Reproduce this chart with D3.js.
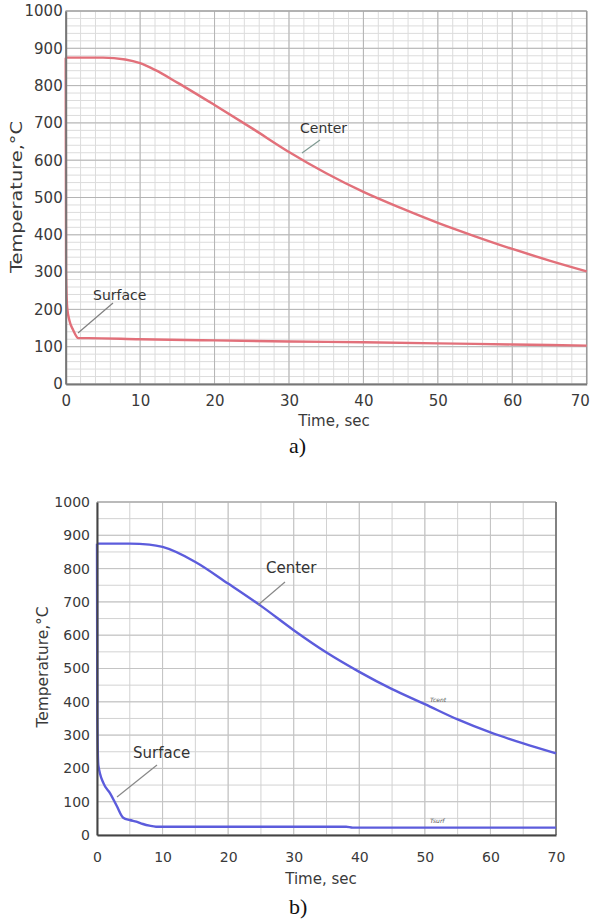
<!DOCTYPE html>
<html>
<head>
<meta charset="utf-8">
<script src="https://cdn.jsdelivr.net/npm/d3@7"></script>
<style>
  body { margin: 0; background: #fff; }
  svg { display: block; }
</style>
</head>
<body>
<svg id="chart"></svg>
<script>
// Cooling curves, center and surface, for two cases a) and b)
const xTicks = [0, 10, 20, 30, 40, 50, 60, 70];
const yTicks = [0, 100, 200, 300, 400, 500, 600, 700, 800, 900, 1000];

const aCenterTime = [0, 5, 8, 10, 12, 15, 20, 25, 30, 35, 40, 45, 50, 55, 60, 65, 70];
const aCenterTemp = [875, 875, 870, 860, 842, 808, 748, 686, 622, 565, 515, 472, 432, 396, 362, 331, 302];
const aSurfaceTime = [0, 0.05, 0.2, 0.5, 1, 1.7, 3, 10, 20, 30, 40, 50, 60, 70];
const aSurfaceTemp = [875, 300, 205, 170, 145, 123, 123, 120, 117, 114, 112, 109, 106, 103];

const bCenterTime = [0, 5, 8, 10, 15, 20, 25, 30, 35, 40, 45, 50, 55, 60, 65, 70];
const bCenterTemp = [875, 875, 872, 865, 820, 755, 688, 615, 548, 490, 438, 393, 347, 308, 275, 245];
const bSurfaceTime = [0, 0.05, 0.2, 1, 2, 3, 4, 5, 6, 7, 8, 9, 10, 38, 39, 70];
const bSurfaceTemp = [875, 350, 210, 155, 125, 88, 52, 45, 40, 33, 28, 25, 25, 25, 22, 22];

const W = 592, H = 922;
const svg = d3.select("#chart").attr("width", W).attr("height", H);

function drawPanel(p) {
  const x = d3.scaleLinear().domain([0, 70]).range([p.left, p.right]);
  const y = d3.scaleLinear().domain([0, 1000]).range([p.bottom, p.top]);
  const g = svg.append("g");

  // grid
  g.append("g").selectAll("line")
    .data(p.minorX).enter().append("line")
    .attr("x1", d => x(d)).attr("x2", d => x(d))
    .attr("y1", p.top).attr("y2", p.bottom)
    .attr("stroke", p.minorColor).attr("stroke-width", 1);
  g.append("g").selectAll("line")
    .data(p.minorY).enter().append("line")
    .attr("y1", d => y(d)).attr("y2", d => y(d))
    .attr("x1", p.left).attr("x2", p.right)
    .attr("stroke", p.minorColor).attr("stroke-width", 1);
  g.append("g").selectAll("line")
    .data(xTicks).enter().append("line")
    .attr("x1", d => x(d)).attr("x2", d => x(d))
    .attr("y1", p.top).attr("y2", p.bottom)
    .attr("stroke", p.majorColor).attr("stroke-width", 1);
  g.append("g").selectAll("line")
    .data(yTicks).enter().append("line")
    .attr("y1", d => y(d)).attr("y2", d => y(d))
    .attr("x1", p.left).attr("x2", p.right)
    .attr("stroke", p.majorColor).attr("stroke-width", 1);

  // frame
  g.append("line").attr("x1", p.left).attr("x2", p.right).attr("y1", p.top).attr("y2", p.top)
    .attr("stroke", p.topColor).attr("stroke-width", 1.5);
  g.append("line").attr("x1", p.right).attr("x2", p.right).attr("y1", p.top).attr("y2", p.bottom)
    .attr("stroke", p.rightColor).attr("stroke-width", 1.5);

  // curves
  const line = d3.line()
    .x(d => x(d[0])).y(d => y(d[1]))
    .curve(d3.curveMonotoneX);
  [[p.cT, p.cV], [p.sT, p.sV]].forEach(([t, v]) => {
    g.append("path")
      .datum(d3.zip(t, v))
      .attr("fill", "none")
      .attr("stroke", p.lineColor)
      .attr("stroke-width", 2.4)
      .attr("stroke-linejoin", "round")
      .attr("d", line);
  });

  // axes
  const ax = g.append("g")
    .attr("transform", `translate(0,${p.bottom})`)
    .call(d3.axisBottom(x).tickValues(xTicks).tickFormat(d3.format("d")).tickSize(0).tickPadding(p.xPad));
  const ay = g.append("g")
    .attr("transform", `translate(${p.left},0)`)
    .call(d3.axisLeft(y).tickValues(yTicks).tickFormat(d3.format("d")).tickSize(0).tickPadding(p.yPad));
  [ax, ay].forEach(a => {
    a.select(".domain").attr("stroke", p.axisColor).attr("stroke-width", 2);
    a.selectAll("text")
      .style("font-family", "DejaVu Sans, sans-serif")
      .style("font-size", p.tickFont + "px")
      .attr("fill", "#3a3a3a");
  });
  if (p.lastTickShift) {
    ax.selectAll(".tick text").filter(d => d === 70).attr("dx", p.lastTickShift);
  }

  g.append("text")
    .attr("x", p.xTitle[0]).attr("y", p.xTitle[1])
    .attr("text-anchor", "middle")
    .style("font-family", "DejaVu Sans, sans-serif")
    .style("font-size", p.titleFont + "px")
    .attr("fill", "#3a3a3a")
    .text("Time, sec");

  g.append("text")
    .attr("transform", `translate(${p.yTitle[0]},${p.yTitle[1]}) rotate(-90)`)
    .attr("text-anchor", "middle")
    .attr("textLength", p.yTitle[2])
    .attr("lengthAdjust", "spacingAndGlyphs")
    .style("font-family", "DejaVu Sans, sans-serif")
    .style("font-size", p.titleFont + "px")
    .attr("fill", "#3a3a3a")
    .text("Temperature,°C");

  // annotations
  p.notes.forEach(n => {
    g.append("line")
      .attr("x1", n.from[0]).attr("y1", n.from[1])
      .attr("x2", n.to[0]).attr("y2", n.to[1])
      .attr("stroke", n.color).attr("stroke-width", 1.2);
    g.append("text")
      .attr("x", n.at[0]).attr("y", n.at[1])
      .style("font-family", "DejaVu Sans, sans-serif")
      .style("font-size", n.size + "px")
      .attr("fill", "#333")
      .text(n.text);
  });

  svg.append("text")
    .attr("x", p.caption[0]).attr("y", p.caption[1])
    .style("font-family", "Liberation Serif, Times New Roman, serif")
    .style("font-size", "22px")
    .attr("fill", "#111")
    .text(p.caption[2]);

  return { x, y, g };
}

drawPanel({
  left: 65.7, right: 586.7, top: 11, bottom: 384,
  minorX: d3.range(0, 70.1, 2), minorY: d3.range(0, 1000.1, 20),
  minorColor: "#dcdcdc", majorColor: "#b4b4b4",
  topColor: "#a8a8a8", rightColor: "#9a9a9a", axisColor: "#777",
  lineColor: "#e2707a",
  cT: aCenterTime, cV: aCenterTemp, sT: aSurfaceTime, sV: aSurfaceTemp,
  xPad: 11, yPad: 3, tickFont: 15, titleFont: 15, lastTickShift: -7,
  xTitle: [334, 426], yTitle: [22, 197, 152],
  notes: [
    { text: "Center", at: [300, 133], from: [320, 140], to: [302, 153], color: "#7f9a92", size: 14 },
    { text: "Surface", at: [93, 300], from: [113, 303], to: [78, 333], color: "#808080", size: 14 }
  ],
  caption: [289, 453, "a)"]
});

const b = drawPanel({
  left: 97, right: 556, top: 502, bottom: 835,
  minorX: d3.range(0, 70.1, 5), minorY: d3.range(0, 1000.1, 50),
  minorColor: "#d2d2d2", majorColor: "#c4c4c4",
  topColor: "#b0b0b0", rightColor: "#666", axisColor: "#444",
  lineColor: "#5c5cdc",
  cT: bCenterTime, cV: bCenterTemp, sT: bSurfaceTime, sV: bSurfaceTemp,
  xPad: 17, yPad: 7, tickFont: 14, titleFont: 15,
  xTitle: [321, 884], yTitle: [48, 667, 121],
  notes: [
    { text: "Center", at: [266, 573], from: [285, 582], to: [258, 605], color: "#888", size: 15 },
    { text: "Surface", at: [133, 758], from: [157, 765], to: [117, 797], color: "#888", size: 15 }
  ],
  caption: [289, 914, "b)"]
});

// tiny series tags in panel b
b.g.append("text").attr("x", 430).attr("y", 702)
  .style("font-family", "DejaVu Sans, sans-serif").style("font-size", "6px")
  .style("font-style", "italic").attr("fill", "#555").text("Tcent");
b.g.append("text").attr("x", 430).attr("y", 823)
  .style("font-family", "DejaVu Sans, sans-serif").style("font-size", "6px")
  .style("font-style", "italic").attr("fill", "#555").text("Tsurf");
</script>
</body>
</html>
